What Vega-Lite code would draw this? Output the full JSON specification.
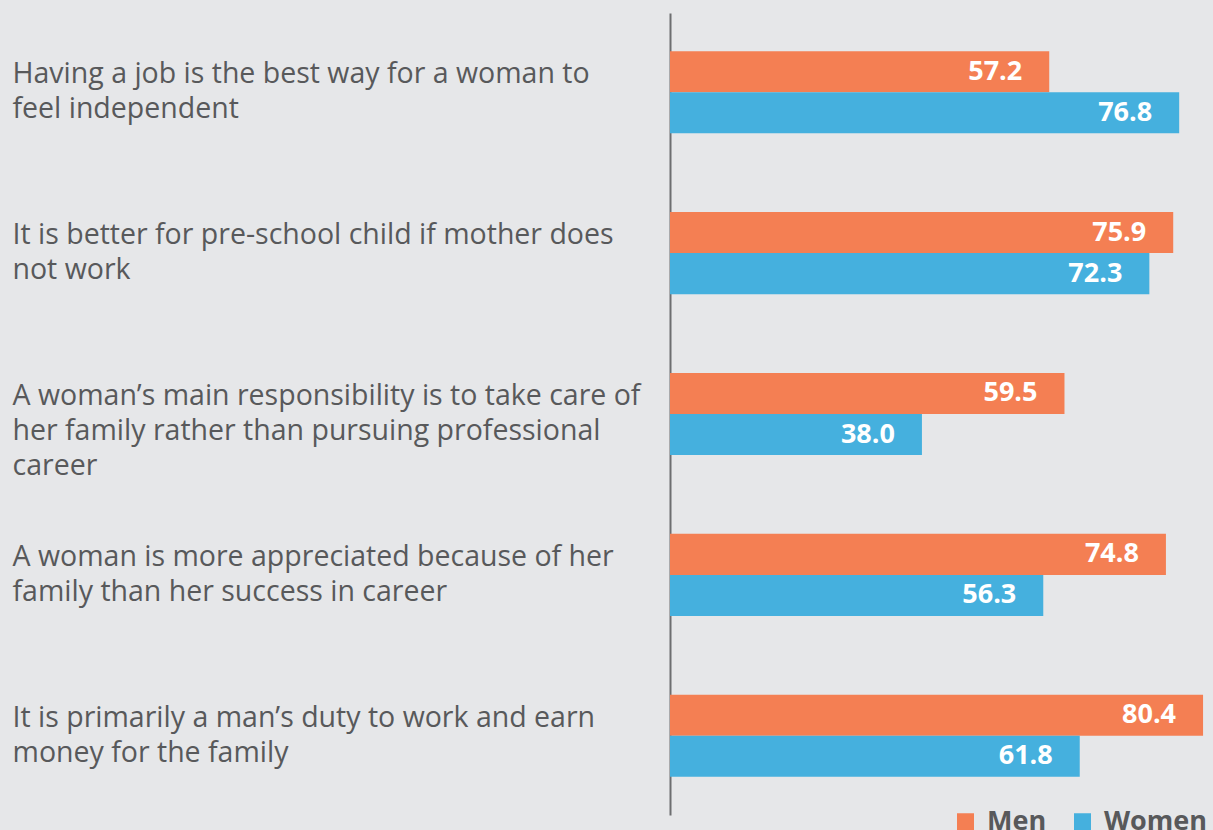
{
  "$schema": "https://vega.github.io/schema/vega-lite/v6.json",
  "width": 543,
  "height": 802,
  "autosize": {"type": "none"},
  "padding": {"left": 670, "top": 13, "right": 0, "bottom": 15},
  "background": "#e6e7e9",
  "data": {
    "values": [
      {"q": "Having a job is the best way for a woman to|feel independent", "sex": "Men", "v": 57.2},
      {"q": "Having a job is the best way for a woman to|feel independent", "sex": "Women", "v": 76.8},
      {"q": "It is better for pre-school child if mother does|not work", "sex": "Men", "v": 75.9},
      {"q": "It is better for pre-school child if mother does|not work", "sex": "Women", "v": 72.3},
      {"q": "A woman’s main responsibility is to take care of|her family rather than pursuing professional|career", "sex": "Men", "v": 59.5},
      {"q": "A woman’s main responsibility is to take care of|her family rather than pursuing professional|career", "sex": "Women", "v": 38.0},
      {"q": "A woman is more appreciated because of her|family than her success in career", "sex": "Men", "v": 74.8},
      {"q": "A woman is more appreciated because of her|family than her success in career", "sex": "Women", "v": 56.3},
      {"q": "It is primarily a man’s duty to work and earn|money for the family", "sex": "Men", "v": 80.4},
      {"q": "It is primarily a man’s duty to work and earn|money for the family", "sex": "Women", "v": 61.8}
    ]
  },
  "encoding": {
    "y": {
      "field": "q",
      "type": "nominal",
      "sort": null,
      "scale": {"paddingInner": 0.489, "paddingOuter": 0.237},
      "axis": {
        "title": null,
        "ticks": false,
        "domain": true,
        "domainColor": "#6d6e70",
        "domainWidth": 2,
        "labelAlign": "left",
        "labelPadding": 658,
        "labelBaseline": "top",
        "labelOffset": -32,
        "labelFont": "Open Sans",
        "labelFontSize": 28.5,
        "labelColor": "#58595b",
        "labelLineHeight": 35,
        "labelLimit": 700,
        "labelExpr": "split(datum.label, '|')"
      }
    },
    "yOffset": {"field": "sex", "type": "nominal", "sort": ["Men", "Women"], "scale": {"paddingInner": 0, "paddingOuter": 0}},
    "x": {"field": "v", "type": "quantitative", "scale": {"domain": [0, 81.9]}, "axis": null}
  },
  "layer": [
    {
      "mark": {"type": "bar"},
      "encoding": {
        "color": {
          "field": "sex",
          "type": "nominal",
          "scale": {"domain": ["Men", "Women"], "range": ["#f47f53", "#45b0de"]},
          "legend": {
            "orient": "none",
            "legendX": 282,
            "legendY": 795,
            "direction": "horizontal",
            "title": null,
            "symbolType": "square",
            "symbolSize": 289,
            "symbolStrokeWidth": 0,
            "symbolOpacity": 1,
            "labelFont": "Open Sans",
            "labelFontSize": 27,
            "labelFontWeight": "bold",
            "labelColor": "#58595b",
            "labelOffset": 8,
            "columnPadding": 22,
            "padding": 0
          }
        }
      }
    },
    {
      "mark": {"type": "text", "align": "right", "baseline": "middle", "dx": -27, "color": "white", "font": "Open Sans", "fontSize": 27, "fontWeight": "bold"},
      "encoding": {"text": {"field": "v", "type": "quantitative", "format": ".1f"}}
    }
  ],
  "config": {"view": {"stroke": null}}
}
